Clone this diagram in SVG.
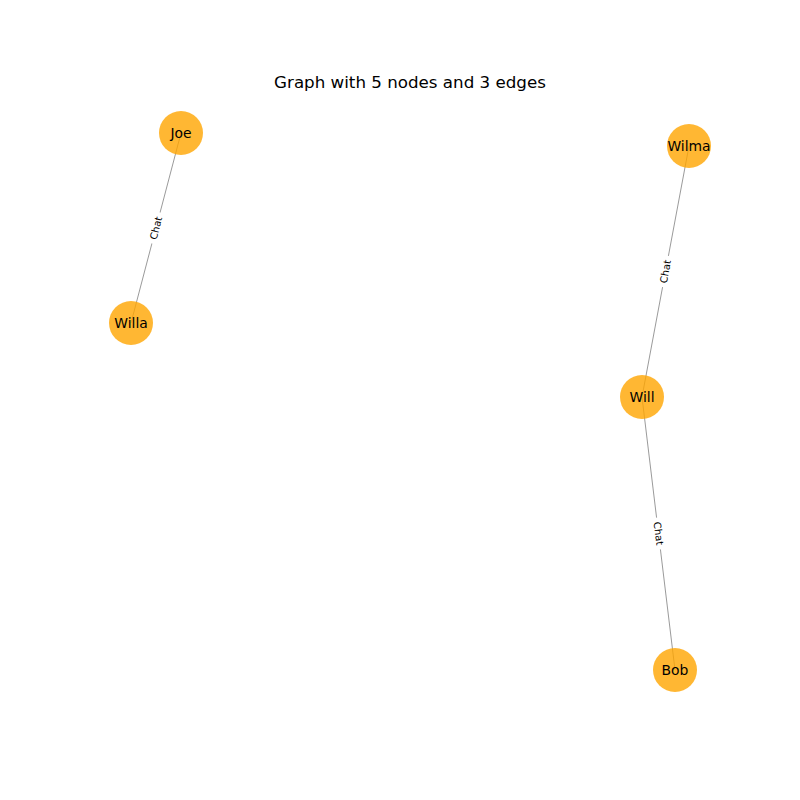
<svg xmlns="http://www.w3.org/2000/svg" width="800" height="800" viewBox="0 0 800 800">
<style>
.edge{stroke:#808080;stroke-width:0.8;fill:none}
.node circle{fill:#ffa500;fill-opacity:0.8;stroke:none}
.node text{font-family:"DejaVu Sans",sans-serif;font-size:13.9px;text-anchor:middle;dominant-baseline:central;fill:#000}
.el rect{fill:#fff}
.el text{font-family:"DejaVu Sans",sans-serif;font-size:10px;text-anchor:middle;dominant-baseline:central;fill:#000}
.title{font-family:"DejaVu Sans",sans-serif;font-size:16.7px;text-anchor:middle;fill:#000}
</style>
<rect width="800" height="800" fill="#fff"/>
<text class="title" x="410" y="88">Graph with 5 nodes and 3 edges</text>
<g id="connectors">
<line class="edge" x1="181" y1="133" x2="131" y2="323"/>
<line class="edge" x1="689" y1="146" x2="642" y2="397"/>
<line class="edge" x1="642" y1="397" x2="675" y2="670"/>
<g class="el" transform="translate(156,228) rotate(-75.3)"><rect x="-16" y="-6" width="32" height="12"/><text x="0" y="0">Chat</text></g>
<g class="el" transform="translate(665.5,271.5) rotate(-79.4)"><rect x="-16" y="-6" width="32" height="12"/><text x="0" y="0">Chat</text></g>
<g class="el" transform="translate(658.5,533.5) rotate(83.1)"><rect x="-16" y="-6" width="32" height="12"/><text x="0" y="0">Chat</text></g>
</g>
<g id="Joe" class="node"><circle cx="181" cy="133" r="22"/><text x="181" y="133">Joe</text></g>
<g id="Willa" class="node"><circle cx="131" cy="323" r="22"/><text x="131" y="323">Willa</text></g>
<g id="Wilma" class="node"><circle cx="689" cy="146" r="22"/><text x="689" y="146">Wilma</text></g>
<g id="Will" class="node"><circle cx="642" cy="397" r="22"/><text x="642" y="397">Will</text></g>
<g id="Bob" class="node"><circle cx="675" cy="670" r="22"/><text x="675" y="670">Bob</text></g>
</svg>
